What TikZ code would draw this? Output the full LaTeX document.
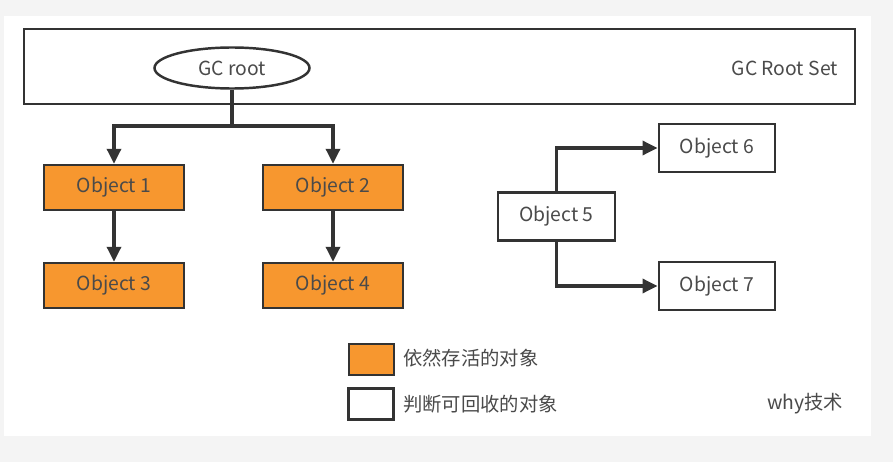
\documentclass[tikz,border=0pt]{standalone}
\usepackage{fontspec}
\setmainfont{Noto Sans CJK SC}
\usetikzlibrary{arrows.meta,shapes.geometric}
\definecolor{ink}{HTML}{333333}
\definecolor{muted}{HTML}{4A4A4A}
\definecolor{pagebg}{HTML}{F4F4F4}
\definecolor{alivefill}{HTML}{F7972F}
\newcommand{\objfont}{\fontsize{11}{13}\selectfont}
\tikzset{
 every node/.append style={font=\objfont,text=muted},
 objbox/.style={draw=ink,fill=white,line width=1.4pt,minimum width=28mm,minimum height=9mm,inner sep=2pt},
 alive/.style={objbox,fill=alivefill},
 dead/.style={objbox,minimum width=23.3mm,minimum height=9.6mm},
 rootset/.style={draw=ink,fill=white,line width=1.4pt,minimum width=166.2mm,minimum height=15mm},
 rootnode/.style={ellipse,draw=ink,fill=white,line width=1.4pt,minimum width=31mm,minimum height=8.2mm,inner sep=0pt},
 keybox/.style={draw=ink,line width=1.4pt,minimum width=9mm,minimum height=6.2mm,inner sep=0pt},
 word/.style={inner sep=1pt},
 ref/.style={-{Triangle[length=3mm,width=2.8mm]},draw=ink,line width=1.9pt},
 route/.style={draw=ink,line width=1.9pt},
}

\begin{document}
\begin{tikzpicture}
\useasboundingbox (0,0) rectangle (17.86,-9.24);
\fill[pagebg] (0,0) rectangle (17.86,-9.24);
\fill[white] (0.08,-0.32) rectangle (17.42,-8.72);

% root set
\node[rootset] (set) at (8.79,-1.33) {};
\node[rootnode] (root) at (4.64,-1.36) {GC root};
\node[word,anchor=east] (setlabel) at (16.8,-1.36) {GC Root Set};

% reachable objects
\node[alive] (obj1) at (2.28,-3.75) {Object 1};
\node[alive] (obj2) at (6.66,-3.75) {Object 2};
\node[alive] (obj3) at (2.28,-5.71) {Object 3};
\node[alive] (obj4) at (6.66,-5.71) {Object 4};

% unreachable objects
\node[dead] (obj5) at (11.13,-4.33) {Object 5};
\node[dead] (obj6) at (14.34,-2.96) {Object 6};
\node[dead] (obj7) at (14.34,-5.72) {Object 7};

\coordinate (fork) at (4.64,-2.52);
\draw[route] (root.south) -- (fork);
\draw[ref] (fork) -| (obj1.north);
\draw[ref] (fork) -| (obj2.north);
\draw[ref] (obj1) -- (obj3);
\draw[ref] (obj2) -- (obj4);
\draw[ref] (obj5.north) |- (obj6.west);
\draw[ref] (obj5.south) |- (obj7.west);

% legend
\node[keybox,fill=alivefill] (keyalive) at (7.43,-7.19) {};
\node[keybox,fill=white] (keydead) at (7.42,-8.08) {};
\node[word,anchor=west] (alivetext) at (8.02,-7.17) {依然存活的对象};
\node[word,anchor=west] (deadtext) at (8.02,-8.08) {判断可回收的对象};
\node[word] (mark) at (16.1,-8.08) {why技术};

\end{tikzpicture}
\end{document}
